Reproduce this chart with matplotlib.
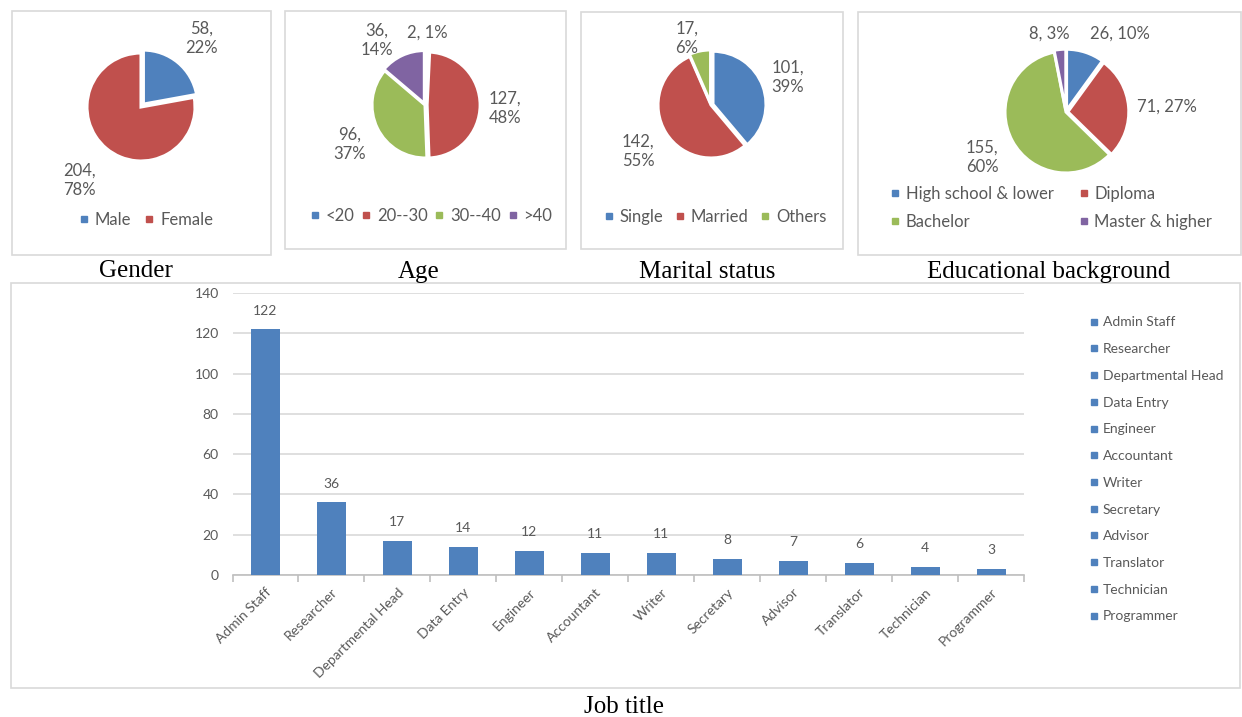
import matplotlib
matplotlib.use('Agg')
import matplotlib.pyplot as plt
from matplotlib.patches import Rectangle
from matplotlib.lines import Line2D

W, H = 1242, 717
INK = '#595959'
FRAME = '#d9d9d9'
BLUE, RED, GREEN, PURPLE = '#4f81bd', '#c0504d', '#9bbb59', '#8064a2'
SANS = ['Lato', 'DejaVu Sans']
SERIF = 'Liberation Serif'

# --- survey data -----------------------------------------------------------
gender_labels = ['Male', 'Female']
gender_counts = [58, 204]
gender_pct = [22, 78]

age_labels = ['<20', '20--30', '30--40', '>40']
age_counts = [2, 127, 96, 36]
age_pct = [1, 48, 37, 14]

marital_labels = ['Single', 'Married', 'Others']
marital_counts = [101, 142, 17]
marital_pct = [39, 55, 6]

edu_labels = ['High school & lower', 'Diploma', 'Bachelor', 'Master & higher']
edu_counts = [26, 71, 155, 8]
edu_pct = [10, 27, 60, 3]

jobs = ['Admin Staff', 'Researcher', 'Departmental Head', 'Data Entry', 'Engineer',
        'Accountant', 'Writer', 'Secretary', 'Advisor', 'Translator', 'Technician',
        'Programmer']
job_counts = [122, 36, 17, 14, 12, 11, 11, 8, 7, 6, 4, 3]

plt.rcParams['font.family'] = SANS
fig = plt.figure(figsize=(W / 100, H / 100), dpi=100, facecolor='white')


def fx(x):
    return x / W


def fy(y):
    return 1 - y / H


def box(x0, y0, x1, y1):
    fig.patches.append(Rectangle((fx(x0), fy(y1)), fx(x1 - x0), (y1 - y0) / H,
                                 transform=fig.transFigure, fill=False,
                                 edgecolor=FRAME, lw=1.2))


def caption(x, y, s):
    fig.text(fx(x), fy(y), s, ha='center', va='center', family=SERIF,
             fontsize=18, color='black')


def pie(cx, cy, r, counts, pct, colors, label_pos, seps, explode=None):
    s = 2 * r * 1.4
    ax = fig.add_axes([fx(cx - s / 2), fy(cy + s / 2), s / W, s / H])
    ax.pie(counts, colors=colors, startangle=90, counterclock=False,
           radius=1, explode=explode,
           wedgeprops=dict(edgecolor='white', linewidth=2.2))
    ax.set_xlim(-1.4, 1.4)
    ax.set_ylim(-1.4, 1.4)
    ax.axis('off')
    for c, p, (lx, ly), sep in zip(counts, pct, label_pos, seps):
        ax.text((lx - cx) / r, (cy - ly) / r, f"{c},{sep}{p}%", ha='center',
                va='center', fontsize=12, color=INK, linespacing=1.25)
    return ax


def pie_legend(x, y, labels, colors, ncol, colsp=1.0, rowsp=0.5):
    handles = [Line2D([], [], ls='', marker='s', markersize=5, color=c) for c in colors]
    fig.legend(handles, labels, loc='center', bbox_to_anchor=(fx(x), fy(y)),
               ncol=ncol, frameon=False, fontsize=12, labelcolor=INK,
               handlelength=0.6, handletextpad=0.35, columnspacing=colsp,
               labelspacing=rowsp)


# --- frames and captions ---------------------------------------------------
box(12, 11, 271, 255)
box(285, 11, 566, 249)
box(581, 12, 843, 249)
box(858, 12, 1241, 255)
box(11, 283, 1240, 688)

caption(136, 271, 'Gender')
caption(419, 272, 'Age')
caption(707, 272, 'Marital status')
caption(1049, 272, 'Educational background')
caption(624, 707, 'Job title')

# --- pies ------------------------------------------------------------------
pie(141, 107, 54, gender_counts, gender_pct, [BLUE, RED],
    [(202, 38), (79, 180)], ['\n', '\n'], explode=[0.07, 0])
pie_legend(146, 220, gender_labels, [BLUE, RED], 2, colsp=0.8)

pie(425, 105, 53, age_counts, age_pct, [BLUE, RED, GREEN, PURPLE],
    [(427, 33), (505, 108), (350, 144), (377, 40)], [' ', '\n', '\n', '\n'],
    explode=[0, 0.04, 0, 0.03])
pie_legend(431, 216, age_labels, [BLUE, RED, GREEN, PURPLE], 4, colsp=0.4)

pie(711, 105, 53, marital_counts, marital_pct, [BLUE, RED, GREEN],
    [(788, 77), (638, 151), (687, 38)], ['\n', '\n', '\n'],
    explode=[0.04, 0, 0.04])
pie_legend(715, 217, marital_labels, [BLUE, RED, GREEN], 3, colsp=0.7)

pie(1066, 112, 61, edu_counts, edu_pct, [BLUE, RED, GREEN, PURPLE],
    [(1120, 34), (1167, 107), (982, 157), (1049, 34)], [' ', ' ', '\n', ' '],
    explode=[0.03, 0.03, 0, 0.03])
pie_legend(1051, 208, [edu_labels[0], edu_labels[2], edu_labels[1], edu_labels[3]],
           [BLUE, GREEN, RED, PURPLE], 2, colsp=1.5, rowsp=0.75)

# --- job title bars --------------------------------------------------------
x0, x1, yb, yt = 232.5, 1024, 575, 293
ax = fig.add_axes([fx(x0), fy(yb), (x1 - x0) / W, (yb - yt) / H])
pos = list(range(len(jobs)))
bars = ax.bar(pos, job_counts, width=0.44, color=BLUE, zorder=3)
ax.bar_label(bars, padding=9, fontsize=10, color=INK)
ax.set_xlim(-0.5, len(jobs) - 0.5)
ax.set_ylim(0, 140)
ax.set_yticks(range(0, 141, 20))
ax.grid(axis='y', color=FRAME, lw=1.2, zorder=0)
ax.tick_params(axis='y', length=0, labelsize=10, labelcolor=INK, pad=10)
ax.set_xticks(pos)
ax.set_xticklabels(jobs, rotation=45, ha='right', rotation_mode='anchor',
                   fontsize=10, color=INK)
ax.set_xticks([p - 0.5 for p in pos] + [len(jobs) - 0.5], minor=True)
ax.tick_params(axis='x', which='major', length=0, pad=8)
ax.tick_params(axis='x', which='minor', length=5, color='#bfbfbf', width=1.2)
for side in ['top', 'right', 'left']:
    ax.spines[side].set_visible(False)
ax.spines['bottom'].set_color('#bfbfbf')
ax.spines['bottom'].set_linewidth(1.2)

handles = [Line2D([], [], ls='', marker='s', markersize=4, color=BLUE) for _ in jobs]
fig.legend(handles, jobs, loc='upper left', bbox_to_anchor=(fx(1077), fy(304)),
           frameon=False, fontsize=10, labelcolor=INK, handlelength=0.6,
           handletextpad=0.35, labelspacing=1.06)

fig.savefig('out.png', dpi=100, facecolor='white')
